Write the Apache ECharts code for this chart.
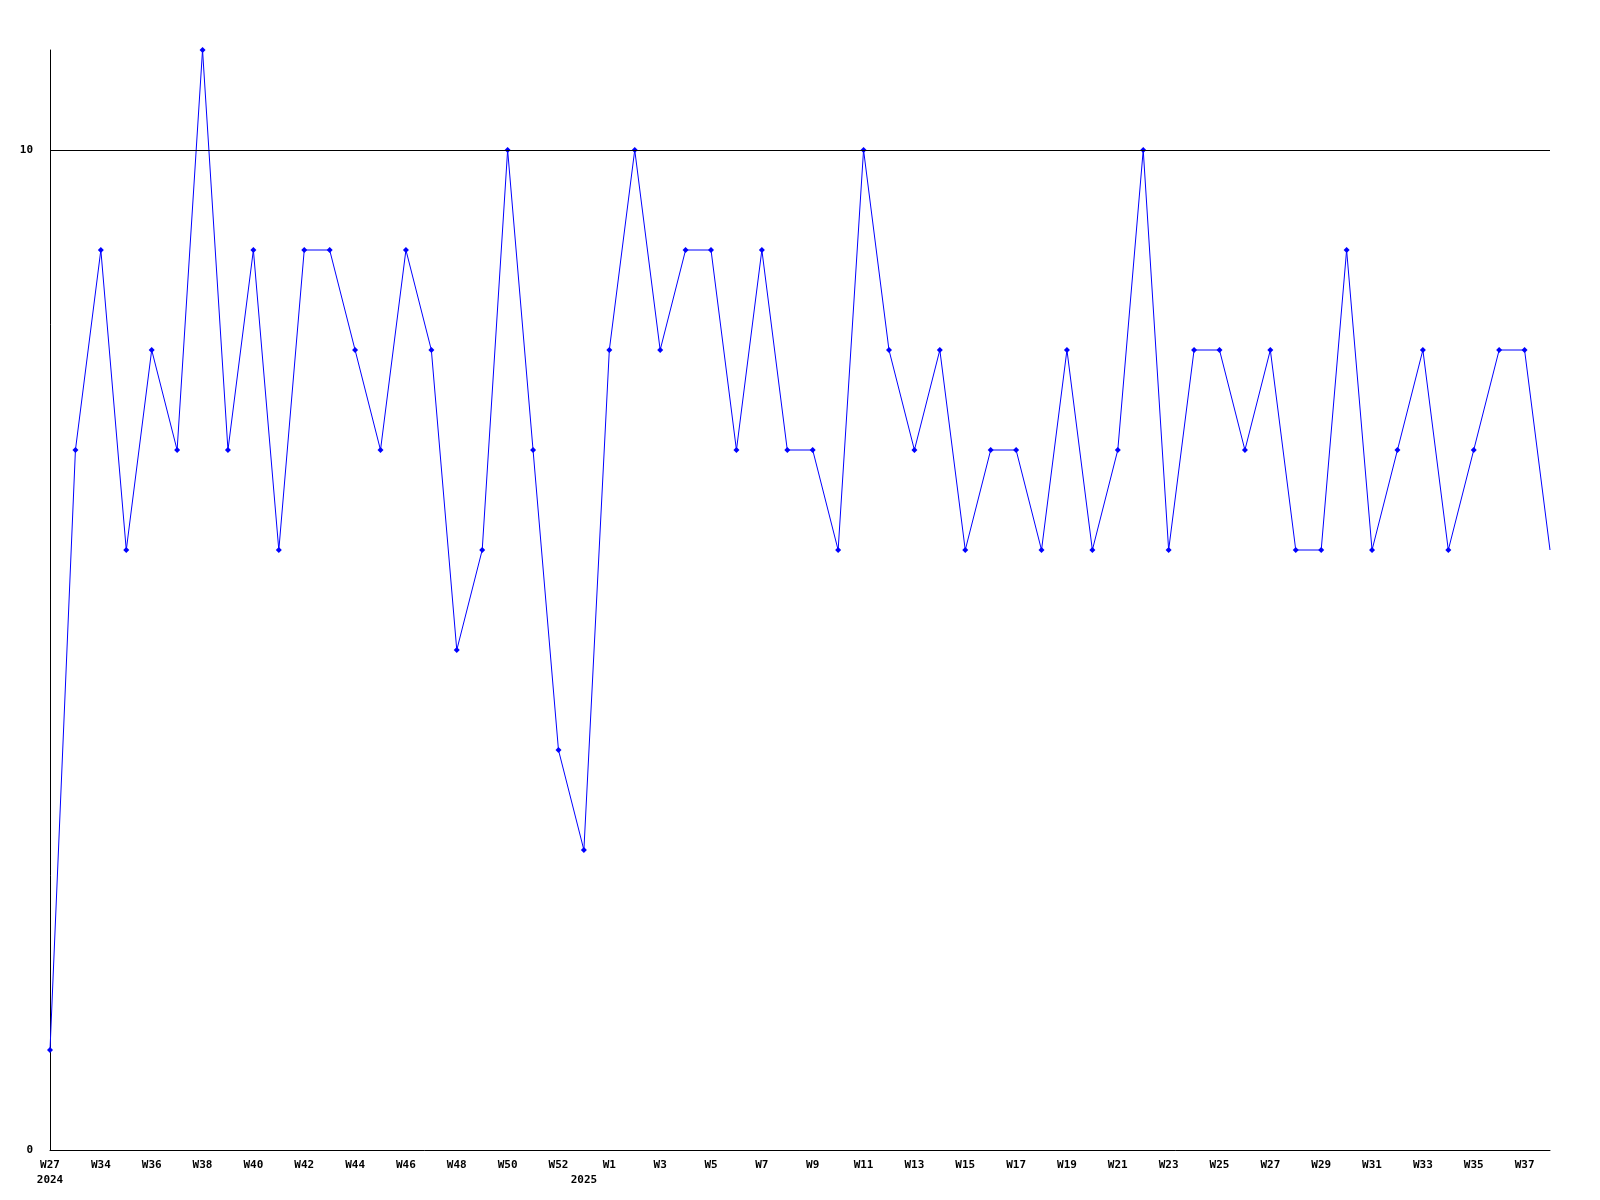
<!DOCTYPE html>
<html>
<head>
<meta charset="utf-8">
<script src="https://cdn.jsdelivr.net/npm/echarts@6/dist/echarts.min.js"></script>
<style>html,body{margin:0;padding:0;background:#fff}#c{width:1600px;height:1200px}</style>
</head>
<body>
<div id="c"></div>
<script>
const weeks = ['W27','W33','W34','W35','W36','W37','W38','W39','W40','W41','W42','W43','W44','W45','W46','W47','W48','W49','W50','W51','W52','W0',
  'W1','W2','W3','W4','W5','W6','W7','W8','W9','W10','W11','W12','W13','W14','W15','W16','W17','W18','W19','W20','W21','W22','W23','W24','W25','W26','W27','W28','W29','W30','W31','W32','W33','W34','W35','W36','W37','W38'];
const yearLabels = {0: '2024', 21: '2025'};
const values = [1,7,9,6,8,7,11,7,9,6,9,9,8,7,9,8,5,6,10,7,4,3,
  8,10,8,9,9,7,9,7,7,6,10,8,7,8,6,7,7,6,8,6,7,10,6,8,8,7,8,6,6,9,6,7,8,6,7,8,8,6];
const yTicks = [0, 10];

const chart = echarts.init(document.getElementById('c'));
const font = {fontFamily: 'DejaVu Sans Mono', fontWeight: 'bold', fontSize: 11, color: '#000'};
chart.setOption({
  animation: false,
  grid: {left: 50, right: 50, top: 50, bottom: 50},
  xAxis: {
    type: 'category',
    data: weeks,
    boundaryGap: false,
    axisLine: {lineStyle: {color: '#000', width: 1}},
    axisTick: {show: false},
    axisLabel: Object.assign({}, font, {
      interval: 0,
      margin: 8,
      lineHeight: 15,
      verticalAlign: 'top',
      formatter: function (v, i) {
        let s = (i % 2 === 0) ? v : '';
        if (yearLabels[i]) s = s + '\n' + yearLabels[i];
        return s;
      }
    })
  },
  yAxis: {
    type: 'value',
    min: 0,
    max: 11,
    interval: 10,
    axisLine: {show: true, lineStyle: {color: '#000', width: 1}},
    axisTick: {show: false},
    splitLine: {show: false},
    axisLabel: Object.assign({}, font, {
      margin: 17,
      showMaxLabel: false,
      formatter: function (v) { return yTicks.indexOf(v) >= 0 ? String(v) : ''; }
    })
  },
  series: [{
    type: 'line',
    data: values.map(function (v, i) {
      return i === values.length - 1 ? {value: v, symbol: 'none'} : v;
    }),
    symbol: 'diamond',
    symbolSize: 6,
    showAllSymbol: true,
    lineStyle: {color: '#0000ff', width: 1},
    itemStyle: {color: '#0000ff'},
    markLine: {
      silent: true,
      symbol: 'none',
      label: {show: false},
      lineStyle: {color: '#000', width: 1, type: 'solid'},
      data: [{yAxis: 10}]
    },
    z: 3
  }]
});
</script>
</body>
</html>
